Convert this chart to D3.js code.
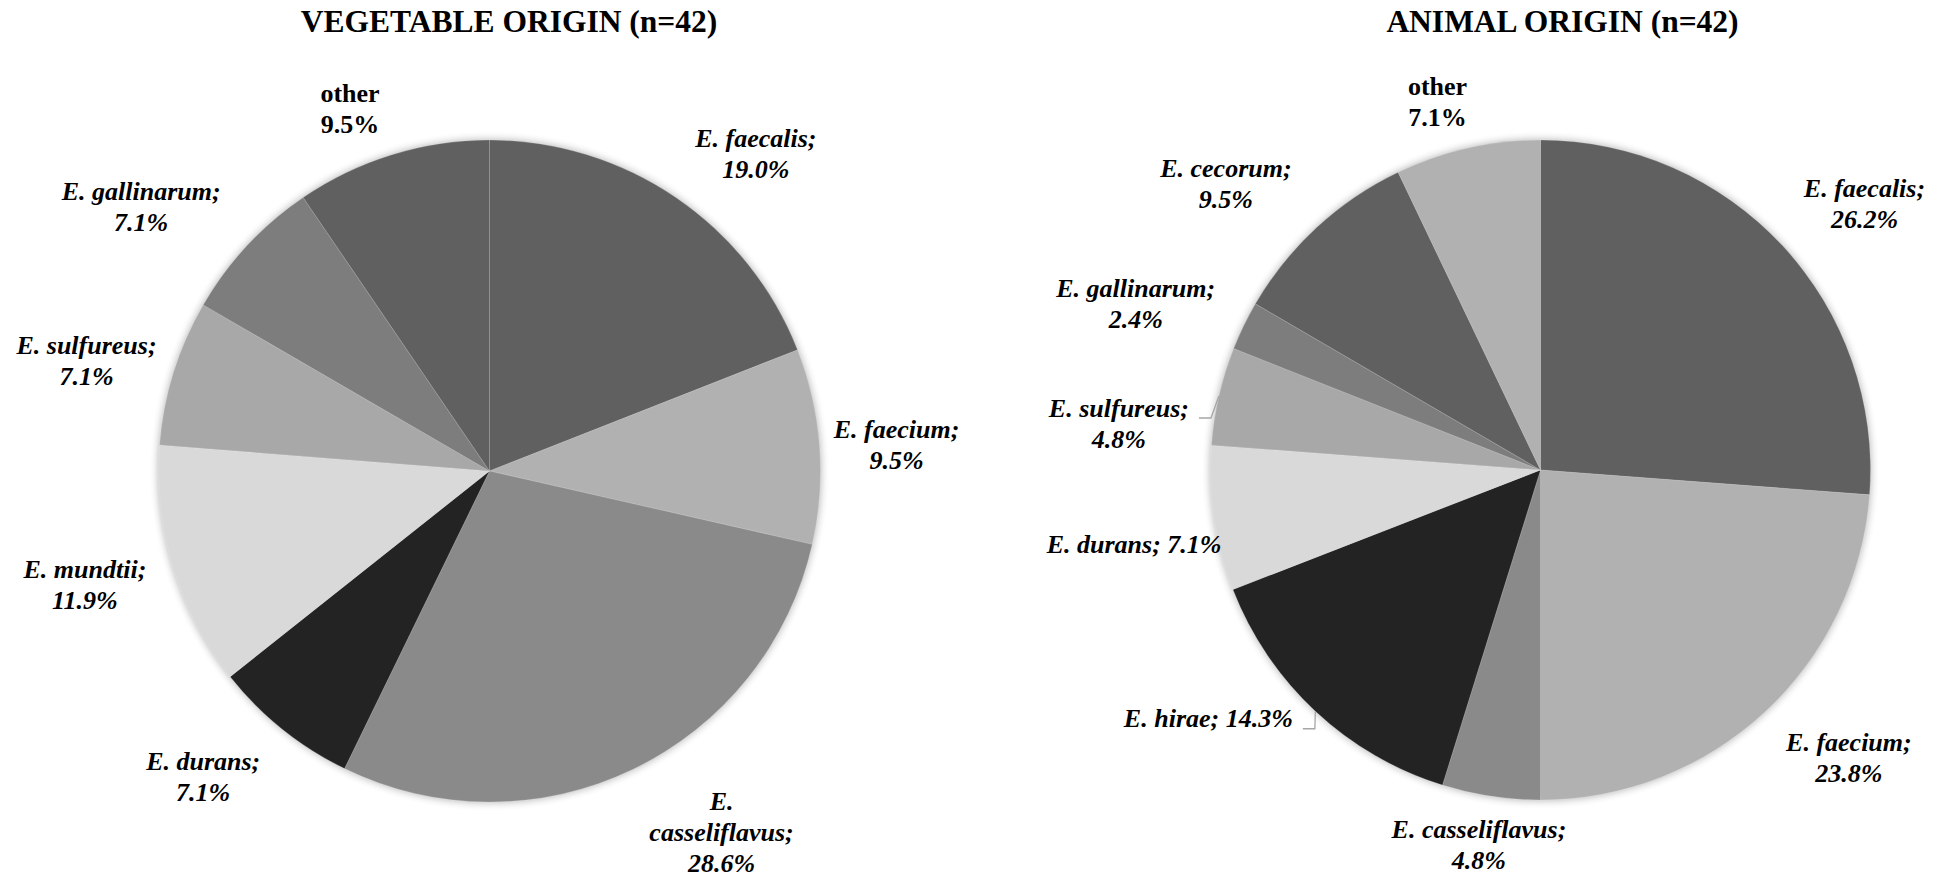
<!DOCTYPE html>
<html>
<head>
<meta charset="utf-8">
<script src="https://cdn.jsdelivr.net/npm/d3@7"></script>
<style>
  html, body { margin: 0; padding: 0; background: #ffffff; }
  svg { display: block; }
</style>
</head>
<body>
<svg id="chart" width="1952" height="878"></svg>
<script>
// ---- data: share of isolates per species (%) ----
const vegCategories = ["E. faecalis", "E. faecium", "E. casseliflavus", "E. durans",
                       "E. mundtii", "E. sulfureus", "E. gallinarum", "other"];
const vegValues = [19.0, 9.5, 28.6, 7.1, 11.9, 7.1, 7.1, 9.5];

const animalCategories = ["E. faecalis", "E. faecium", "E. casseliflavus", "E. hirae",
                          "E. durans", "E. sulfureus", "E. gallinarum", "E. cecorum", "other"];
const animalValues = [26.2, 23.8, 4.8, 14.3, 7.1, 4.8, 2.4, 9.5, 7.1];

const chartTitles = ["VEGETABLE ORIGIN (n=42)", "ANIMAL ORIGIN (n=42)"];

// ---- styling / layout ----
const sliceGreys = ["#606060", "#b1b1b1", "#8a8a8a", "#232323", "#d9d9d9", "#a8a8a8", "#7d7d7d"];
const FONT = "'Liberation Serif', 'Times New Roman', Times, serif";
const LABEL_SIZE = 26;
const LINE = 31;

// label wrapping: "two" = name / value, "one" = name; value, "three" = genus / species / value
const vegWrap = ["two", "two", "three", "two", "two", "two", "two", "two"];
const animalWrap = ["two", "two", "two", "one", "one", "two", "two", "two", "two"];

// label box centre relative to the slice's outer edge point
const vegLabelShift = [[80, -44], [77, -2], [89, 63], [-79, 47], [-88, 17],
                       [-87, -12], [-106, -39], [-42, -46]];
const animalLabelShift = [[82, -42], [84, 46], [-12, 48], [-107, 7], [-80, 25],
                          [-100, 27], [-108, -22], [-91, -44], [-30, -47]];
const animalLeaders = [false, false, false, true, false, true, false, false, false];
const vegLeaders = vegCategories.map(() => false);

const panels = [
  { title: chartTitles[0], titleX: 509, cx: 489.5, cy: 471, r: 331,
    categories: vegCategories, values: vegValues, wrap: vegWrap,
    shift: vegLabelShift, leaders: vegLeaders },
  { title: chartTitles[1], titleX: 1562.5, cx: 1540.5, cy: 470, r: 330,
    categories: animalCategories, values: animalValues, wrap: animalWrap,
    shift: animalLabelShift, leaders: animalLeaders }
];

const svg = d3.select("#chart");
svg.append("rect").attr("width", 1952).attr("height", 878).attr("fill", "#ffffff");

const defs = svg.append("defs");
defs.append("filter").attr("id", "pieGlow")
    .attr("x", "-10%").attr("y", "-10%").attr("width", "120%").attr("height", "120%")
  .append("feGaussianBlur").attr("stdDeviation", 4);

const grey = d3.scaleOrdinal(sliceGreys);
const pct = d3.format(".1f");

function labelLines(name, value, mode) {
  const v = pct(value) + "%";
  if (name === "other") return [name, v];
  if (mode === "one") return [name + "; " + v];
  if (mode === "three") {
    const cut = name.indexOf(" ");
    return [name.slice(0, cut), name.slice(cut + 1) + ";", v];
  }
  return [name + ";", v];
}

panels.forEach(p => {
  svg.append("text")
    .attr("x", p.titleX).attr("y", 32)
    .attr("text-anchor", "middle")
    .attr("font-family", FONT).attr("font-weight", "bold")
    .attr("font-size", 31.5).attr("fill", "#000")
    .text(p.title);

  const g = svg.append("g").attr("transform", `translate(${p.cx},${p.cy})`);
  const arcs = d3.pie().sort(null).value(d => d)(p.values);
  const arc = d3.arc().innerRadius(0).outerRadius(p.r);
  const edge = d3.arc().innerRadius(p.r).outerRadius(p.r);

  // soft shadow around the disc
  g.append("circle").attr("r", p.r).attr("fill", "#000")
    .attr("opacity", 0.32).attr("filter", "url(#pieGlow)");

  g.selectAll("path.slice").data(arcs).join("path")
    .attr("class", "slice")
    .attr("d", arc)
    .attr("fill", (d, i) => grey(i))
    .attr("stroke", "rgba(255,255,255,0.16)")
    .attr("stroke-width", 1);

  arcs.forEach((d, i) => {
    const [ex, ey] = edge.centroid(d);
    const [sx, sy] = p.shift[i];
    const lx = ex + sx, ly = ey + sy;
    const name = p.categories[i];
    const lines = labelLines(name, p.values[i], p.wrap[i]);
    const t = g.append("text")
      .attr("text-anchor", "middle")
      .attr("font-family", FONT).attr("font-weight", "bold")
      .attr("font-style", name === "other" ? "normal" : "italic")
      .attr("font-size", LABEL_SIZE).attr("fill", "#000");
    const top = ly - (lines.length - 1) / 2 * LINE + 9;
    const spans = lines.map((s, k) =>
      t.append("tspan").attr("x", lx).attr("y", top + k * LINE).text(s));

    if (p.leaders[i]) {
      const w = spans[0].node().getComputedTextLength();
      const x0 = lx + w / 2 + 10, y0 = top + 1.5;
      g.append("path")
        .attr("d", `M${x0},${y0}H${x0 + 12}L${ex},${ey}`)
        .attr("fill", "none").attr("stroke", "#a6a6a6").attr("stroke-width", 1.3);
    }
  });
});
</script>
</body>
</html>
